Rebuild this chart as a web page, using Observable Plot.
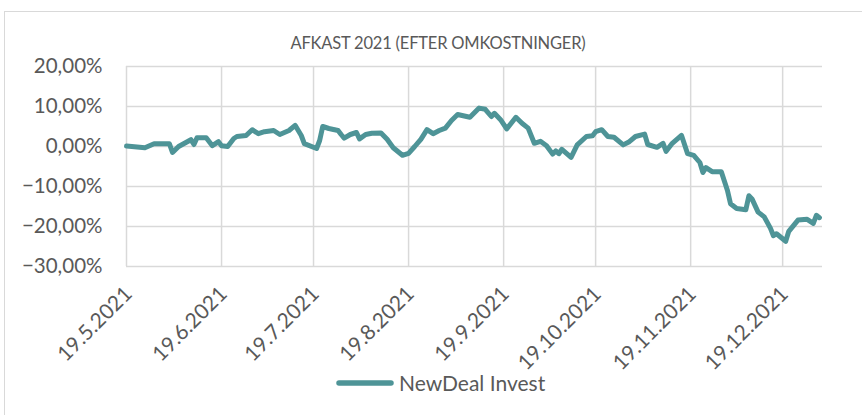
<!DOCTYPE html>
<html>
<head>
<meta charset="utf-8">
<script src="https://cdn.jsdelivr.net/npm/d3@7"></script>
<script src="https://cdn.jsdelivr.net/npm/@observablehq/plot@0.6"></script>
<style>
  html, body { margin: 0; padding: 0; background: #fff; }
  #wrap { position: relative; width: 862px; height: 415px; overflow: hidden; background: #fff; font-family: Lato, "Open Sans", sans-serif; color: #595959; }
  #frame { position: absolute; left: 4px; top: 11px; width: 900px; height: 500px; border: 1.5px solid #d9d9d9; box-sizing: border-box; }
  #title { position: absolute; left: 0; width: 876px; top: 33px; text-align: center; font-size: 16.5px; letter-spacing: -0.2px; }
  #chart { position: absolute; left: 0; top: 0; }
  #legend { position: absolute; left: 336px; top: 370px; display: flex; align-items: center; font-size: 21px; }
  #legend svg { margin-right: 5px; }
</style>
</head>
<body>
<div id="wrap">
  <div id="frame"></div>
  <div id="chart"></div>
  <div id="title">AFKAST 2021 (EFTER OMKOSTNINGER)</div>
  <div id="legend"></div>
</div>
<script>
const seriesName = "NewDeal Invest";
const titleText = "AFKAST 2021 (EFTER OMKOSTNINGER)";

const dates = [
  "2021-05-19","2021-05-25","2021-05-28","2021-06-02","2021-06-03","2021-06-05","2021-06-09","2021-06-10",
  "2021-06-11","2021-06-14","2021-06-16","2021-06-18","2021-06-19","2021-06-21","2021-06-23","2021-06-24",
  "2021-06-27","2021-06-29","2021-07-01","2021-07-03","2021-07-06","2021-07-08","2021-07-11","2021-07-13",
  "2021-07-15","2021-07-16","2021-07-20","2021-07-21","2021-07-22","2021-07-24","2021-07-27","2021-07-28",
  "2021-07-29","2021-07-31","2021-08-02","2021-08-03","2021-08-05","2021-08-07","2021-08-10","2021-08-12",
  "2021-08-14","2021-08-17","2021-08-19","2021-08-21","2021-08-23","2021-08-25","2021-08-27","2021-08-29",
  "2021-08-31","2021-09-02","2021-09-04","2021-09-08","2021-09-11","2021-09-13","2021-09-15","2021-09-16",
  "2021-09-18","2021-09-20","2021-09-23","2021-09-25","2021-09-27","2021-09-29","2021-10-01","2021-10-03",
  "2021-10-05","2021-10-06","2021-10-07","2021-10-08","2021-10-11","2021-10-13","2021-10-16","2021-10-18",
  "2021-10-19","2021-10-21","2021-10-23","2021-10-25","2021-10-28","2021-10-30","2021-11-01","2021-11-04",
  "2021-11-05","2021-11-08","2021-11-10","2021-11-11","2021-11-13","2021-11-16","2021-11-18","2021-11-20",
  "2021-11-22","2021-11-23","2021-11-24","2021-11-26","2021-11-29","2021-12-01","2021-12-02","2021-12-04",
  "2021-12-07","2021-12-08","2021-12-09","2021-12-11","2021-12-13","2021-12-15","2021-12-16","2021-12-17",
  "2021-12-20","2021-12-21","2021-12-24","2021-12-27","2021-12-29","2021-12-30","2021-12-31"
];

const values = [
  0.1, -0.3, 0.7, 0.7, -1.5, 0.0, 1.7, 0.5,
  2.2, 2.2, 0.2, 1.2, 0.2, 0.0, 2.0, 2.5,
  2.75, 4.2, 3.2, 3.7, 4.0, 3.0, 4.0, 5.3,
  2.75, 0.7, -0.5, 1.5, 5.0, 4.5, 4.0, 3.0,
  2.1, 3.0, 3.5, 1.9, 3.0, 3.3, 3.4, 1.8,
  -0.3, -2.2, -1.7, 0.0, 1.8, 4.2, 3.2, 4.0,
  4.6, 6.5, 8.0, 7.3, 9.6, 9.3, 7.5, 8.3,
  6.7, 4.4, 7.3, 5.8, 4.6, 0.8, 1.3, 0.2,
  -1.9, -1.1, -1.8, -0.7, -2.7, 0.4, 2.5, 2.7,
  3.7, 4.2, 2.5, 2.3, 0.4, 1.2, 2.5, 3.1,
  0.5, -0.2, 0.8, -1.2, 0.8, 2.8, -1.8, -2.2,
  -4.0, -6.5, -5.3, -6.3, -6.3, -11.0, -14.3, -15.5,
  -15.8, -12.3, -13.1, -16.4, -17.6, -20.4, -22.3, -21.8,
  -23.7, -21.2, -18.4, -18.2, -19.2, -17.2, -17.8
];

const xTickDates = ["2021-05-19","2021-06-19","2021-07-19","2021-08-19","2021-09-19","2021-10-19","2021-11-19","2021-12-19"];
const xTickLabels = ["19.5.2021","19.6.2021","19.7.2021","19.8.2021","19.9.2021","19.10.2021","19.11.2021","19.12.2021"];
const yTicks = [-30, -20, -10, 0, 10, 20];
const xDomain = ["2021-05-19", "2022-01-01"];

const parse = d3.utcParse("%Y-%m-%d");
const data = dates.map((d, i) => ({date: parse(d), value: values[i]}));
const tickDates = xTickDates.map(parse);
const labelFor = new Map(tickDates.map((d, i) => [+d, xTickLabels[i]]));
const yFmt = d => d3.format(".2f")(d).replace(".", ",") + "%";

const lineColor = "#4e9497";
const gridColor = "#d9d9d9";
const textColor = "#595959";

const chart = Plot.plot({
  width: 862,
  height: 415,
  marginLeft: 126,
  marginRight: 40,
  marginTop: 66,
  marginBottom: 149,
  style: {fontFamily: "Lato, 'Open Sans', sans-serif", color: textColor, background: "transparent", overflow: "visible"},
  x: {type: "utc", domain: xDomain.map(parse)},
  y: {domain: [-30, 20]},
  marks: [
    Plot.gridY(yTicks, {stroke: gridColor, strokeOpacity: 1, strokeWidth: 1.5}),
    Plot.gridX(tickDates, {stroke: gridColor, strokeOpacity: 1, strokeWidth: 1.5}),
    Plot.axisY(yTicks, {tickSize: 0, tickPadding: 24, tickFormat: yFmt, fontSize: 20.5, fill: textColor, label: null}),
    Plot.axisX(tickDates, {tickSize: 0, tickPadding: 24, dx: 2, tickRotate: -45, tickFormat: d => labelFor.get(+d), fontSize: 21, fill: textColor, label: null}),
    Plot.line(data, {x: "date", y: "value", stroke: lineColor, strokeWidth: 5, strokeLinejoin: "round", strokeLinecap: "round"})
  ]
});
document.getElementById("chart").appendChild(chart);

document.getElementById("title").textContent = titleText;
const legend = document.getElementById("legend");
legend.innerHTML = `<svg width="58" height="10"><line x1="3" y1="5" x2="55" y2="5" stroke="${lineColor}" stroke-width="5.5" stroke-linecap="round"/></svg><span>${seriesName}</span>`;
</script>
</body>
</html>
